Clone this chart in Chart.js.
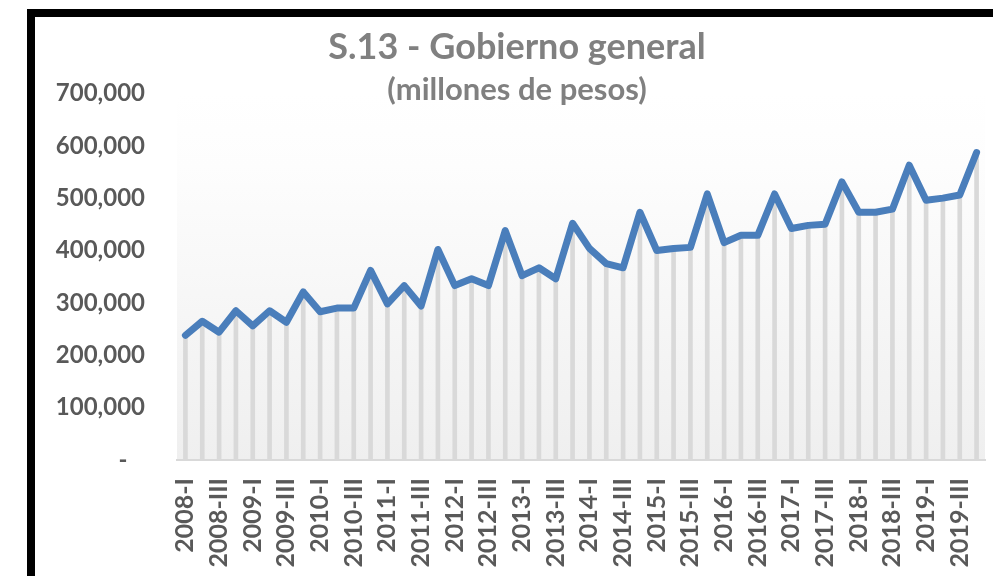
<!DOCTYPE html>
<html>
<head>
<meta charset="utf-8">
<script src="https://cdn.jsdelivr.net/npm/chart.js@4.4.1/dist/chart.umd.min.js"></script>
<style>
  html, body { margin: 0; padding: 0; background: #fff; overflow: hidden; }
  #wrap { position: relative; width: 993px; height: 576px; }
  #chart { position: absolute; left: 0; top: 0; }
  #frame {
    position: absolute; left: 27px; top: 9px; width: 1100px; height: 700px;
    border: 8px solid #000; pointer-events: none;
  }
</style>
</head>
<body>
<div id="wrap">
  <canvas id="chart" width="993" height="576"></canvas>
  <div id="frame"></div>
</div>
<script>
// quarterly series, 2008-I .. 2019-IV
var years = [2008, 2009, 2010, 2011, 2012, 2013, 2014, 2015, 2016, 2017, 2018, 2019];
var quarters = ['I', 'II', 'III', 'IV'];
var values = [
  238000, 265000, 244000, 285000, 256000, 285000, 263000, 321000, 283000, 290000, 290000, 362000,
  298000, 333000, 294000, 402000, 333000, 346000, 333000, 438000, 352000, 367000, 346000, 452000,
  404000, 375000, 367000, 473000, 400000, 404000, 406000, 508000, 415000, 429000, 429000, 508000,
  442000, 448000, 450000, 531000, 473000, 473000, 479000, 563000, 496000, 500000, 506000, 587000
];
var yTicks = [0, 100000, 200000, 300000, 400000, 500000, 600000, 700000];

var labels = [];
years.forEach(function (y) {
  quarters.forEach(function (q) { labels.push(y + '-' + q); });
});

var gray = '#595959';
var font = 'Lato, "Open Sans", sans-serif';

// light grey gradient behind the plot area (drawn before titles/axes)
var plotBg = {
  id: 'plotBg',
  beforeDraw: function (chart) {
    var a = chart.chartArea, c = chart.ctx;
    var g = c.createLinearGradient(0, a.bottom, 0, a.top);
    g.addColorStop(0, '#efefef');
    g.addColorStop(0.8, '#fdfdfd');
    g.addColorStop(1, '#ffffff');
    c.save();
    c.fillStyle = g;
    c.fillRect(a.left, a.top, a.right - a.left, a.bottom - a.top);
    c.restore();
  }
};

new Chart(document.getElementById('chart').getContext('2d'), {
  type: 'bar',
  data: {
    labels: labels,
    datasets: [{
      type: 'line',
      label: 'S.13',
      data: values,
      borderColor: '#4a7ebb',
      borderWidth: 7,
      borderJoinStyle: 'round',
      borderCapStyle: 'round',
      pointRadius: 0,
      tension: 0,
      order: 1
    }, {
      type: 'bar',
      label: 'drop',
      data: values,
      backgroundColor: '#d9d9d9',
      barThickness: 4,
      order: 2
    }]
  },
  options: {
    responsive: false,
    animation: false,
    layout: { padding: { left: 49, right: 8, top: 0, bottom: 0 } },
    plugins: {
      legend: { display: false },
      tooltip: { enabled: false },
      title: {
        display: true,
        text: 'S.13 - Gobierno general',
        color: '#808080',
        font: { family: font, size: 36, weight: 'bold' },
        padding: { top: 26, bottom: 0 }
      },
      subtitle: {
        display: true,
        text: '(millones de pesos)',
        color: '#808080',
        font: { family: font, size: 31, weight: 'bold' },
        padding: { top: 2, bottom: -15 }
      }
    },
    scales: {
      x: {
        grid: { display: false, drawTicks: false },
        border: { display: true, color: '#d9d9d9', width: 2 },
        ticks: {
          autoSkip: false,
          maxRotation: 90,
          minRotation: 90,
          padding: 18,
          color: gray,
          font: { family: font, size: 25, weight: 'bold' },
          callback: function (v, i) { return i % 2 === 0 ? labels[i] : ''; }
        },
        afterFit: function (s) {
          s.height = 116;
          s.paddingLeft = 0;
          s.paddingRight = 0;
        }
      },
      y: {
        min: 0,
        max: 700000,
        afterBuildTicks: function (s) { s.ticks = yTicks.map(function (v) { return { value: v }; }); },
        grid: { display: false, drawTicks: false },
        border: { display: false },
        ticks: {
          padding: 32,
          color: gray,
          font: { family: font, size: 24, weight: 'bold' },
          callback: function (v) { return v === 0 ? '-   ' : v.toLocaleString('en-US'); }
        },
        afterFit: function (s) { s.width = 128; }
      }
    }
  },
  plugins: [plotBg]
});
</script>
</body>
</html>
